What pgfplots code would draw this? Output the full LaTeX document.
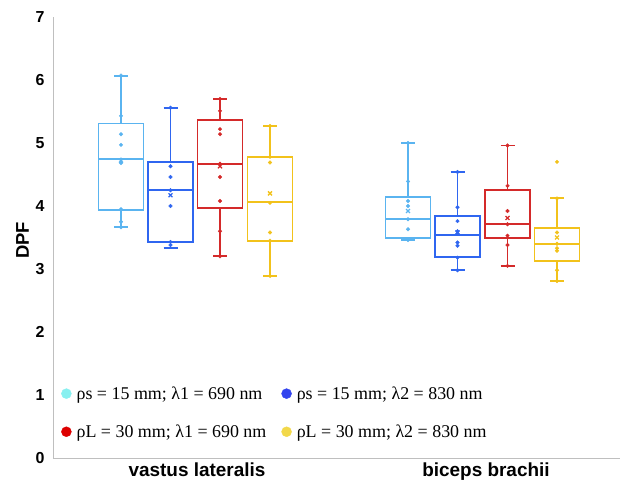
\documentclass[border=0pt]{standalone}
\usepackage{pgfplots}
\pgfplotsset{compat=1.18}
\usepgfplotslibrary{statistics}
\usepackage{fontspec}
\setmainfont{Liberation Serif}
\newfontfamily\arialfont{Liberation Sans}
\definecolor{cLB}{HTML}{5AB4F0}
\definecolor{cB}{HTML}{2F66F0}
\definecolor{cR}{HTML}{D42A2A}
\definecolor{cY}{HTML}{F2C21B}
\definecolor{lLB}{HTML}{88F0F0}
\definecolor{lB}{HTML}{3344EE}
\definecolor{lR}{HTML}{DD0000}
\definecolor{lY}{HTML}{F2D84A}
\pgfplotsset{bx/.style={draw=#1, line width=1.9bp, solid, forget plot},
  pts/.style={only marks, mark=*, mark size=1.8bp, color=#1, forget plot},
  mn/.style={only marks, mark=x, mark size=2.8bp, line width=1.3bp, color=#1, forget plot}}
\begin{document}
\begin{tikzpicture}
\begin{axis}[
  scale only axis, width=567bp, height=441bp,
  xmin=0.53, xmax=6.20, ymin=0, ymax=7,
  axis x line*=bottom, axis y line*=left,
  axis line style={black!25, line width=0.8pt},
  ytick={0,1,...,7}, xtick={1.97,4.86},
  xticklabels={vastus lateralis, biceps brachii},
  major tick length=0pt,
  yticklabel style={font=\arialfont\bfseries\fontsize{16}{18}\selectfont, xshift=-5bp},
  xticklabel style={font=\arialfont\bfseries\fontsize{19}{21}\selectfont, yshift=-1bp},
  /pgf/number format/assume math mode=true,
  ylabel={DPF},
  ylabel style={font=\arialfont\bfseries\fontsize{18.5}{20}\selectfont, xshift=-3bp},
  legend style={draw=none, fill=none, at={(axis cs:0.58,1.2)}, anchor=north west,
    font=\fontsize{18}{21}\selectfont, row sep=20bp,
    nodes={inner xsep=5bp}},
  legend columns=2,
  legend cell align=left,
  /tikz/every even column/.append style={column sep=10bp},
  legend image code/.code={\fill (0bp,0bp) circle (5bp);},
  boxplot/draw direction=y,
  boxplot/box extend=0.45,
  boxplot/whisker extend=0.14,
]
\addlegendimage{lLB, fill=lLB}
\addlegendentry{ρs = 15 mm; λ1 = 690 nm}
\addlegendimage{lB, fill=lB}
\addlegendentry{ρs = 15 mm; λ2 = 830 nm}
\addlegendimage{lR, fill=lR}
\addlegendentry{ρL = 30 mm; λ1 = 690 nm}
\addlegendimage{lY, fill=lY}
\addlegendentry{ρL = 30 mm; λ2 = 830 nm}

% vastus lateralis
\addplot[bx=cLB, boxplot prepared={draw position=1.21, lower whisker=3.66, lower quartile=3.93, median=4.74, upper quartile=5.31, upper whisker=6.07}] coordinates {};
\addplot[pts=cLB] coordinates {(1.21,5.43)(1.21,5.14)(1.21,4.97)(1.21,4.74)(1.21,4.68)(1.21,3.95)(1.21,3.75)(1.21,3.66)(1.21,6.07)};
\addplot[mn=cLB] coordinates {(1.21,4.72)};

\addplot[bx=cB, boxplot prepared={draw position=1.705, lower whisker=3.34, lower quartile=3.43, median=4.25, upper quartile=4.70, upper whisker=5.56}] coordinates {};
\addplot[pts=cB] coordinates {(1.705,4.63)(1.705,4.46)(1.705,4.25)(1.705,4.00)(1.705,3.43)(1.705,3.38)(1.705,5.56)};
\addplot[mn=cB] coordinates {(1.705,4.17)};

\addplot[bx=cR, boxplot prepared={draw position=2.20, lower whisker=3.20, lower quartile=3.97, median=4.67, upper quartile=5.37, upper whisker=5.70}] coordinates {};
\addplot[pts=cR] coordinates {(2.20,5.51)(2.20,5.22)(2.20,5.14)(2.20,4.67)(2.20,4.46)(2.20,4.08)(2.20,3.60)(2.20,5.70)(2.20,3.20)};
\addplot[mn=cR] coordinates {(2.20,4.63)};

\addplot[bx=cY, boxplot prepared={draw position=2.70, lower whisker=2.89, lower quartile=3.45, median=4.07, upper quartile=4.78, upper whisker=5.27}] coordinates {};
\addplot[pts=cY] coordinates {(2.70,4.78)(2.70,4.69)(2.70,4.05)(2.70,3.58)(2.70,3.45)(2.70,5.27)(2.70,2.89)};
\addplot[mn=cY] coordinates {(2.70,4.20)};

% biceps brachii
\addplot[bx=cLB, boxplot prepared={draw position=4.08, lower whisker=3.46, lower quartile=3.49, median=3.79, upper quartile=4.14, upper whisker=5.00}] coordinates {};
\addplot[pts=cLB] coordinates {(4.08,4.39)(4.08,4.08)(4.08,4.00)(4.08,3.79)(4.08,3.63)(4.08,3.46)(4.08,5.00)};
\addplot[mn=cLB] coordinates {(4.08,3.92)};

\addplot[bx=cB, boxplot prepared={draw position=4.575, lower whisker=2.98, lower quartile=3.19, median=3.54, upper quartile=3.84, upper whisker=4.54}] coordinates {};
\addplot[pts=cB] coordinates {(4.575,3.98)(4.575,3.76)(4.575,3.60)(4.575,3.56)(4.575,3.42)(4.575,3.37)(4.575,3.18)(4.575,4.54)(4.575,2.98)};
\addplot[mn=cB] coordinates {(4.575,3.58)};

\addplot[bx=cR, boxplot prepared={draw position=5.075, lower whisker=3.05, lower quartile=3.49, median=3.71, upper quartile=4.26, upper whisker=4.96}] coordinates {};
\addplot[pts=cR] coordinates {(5.075,4.32)(5.075,3.92)(5.075,3.71)(5.075,3.53)(5.075,3.38)(5.075,4.96)(5.075,3.05)};
\addplot[mn=cR] coordinates {(5.075,3.81)};

\addplot[bx=cY, boxplot prepared={draw position=5.57, lower whisker=2.81, lower quartile=3.13, median=3.40, upper quartile=3.65, upper whisker=4.12}] coordinates {};
\addplot[pts=cY] coordinates {(5.57,4.70)(5.57,3.58)(5.57,3.40)(5.57,3.33)(5.57,3.29)(5.57,2.98)(5.57,4.12)(5.57,2.81)};
\addplot[mn=cY] coordinates {(5.57,3.50)};
\end{axis}
\pgfresetboundingbox
\path[use as bounding box] ([shift={(-53bp,-29bp)}]current axis.south west) rectangle ([shift={(0bp,17bp)}]current axis.north east);
\end{tikzpicture}
\end{document}
